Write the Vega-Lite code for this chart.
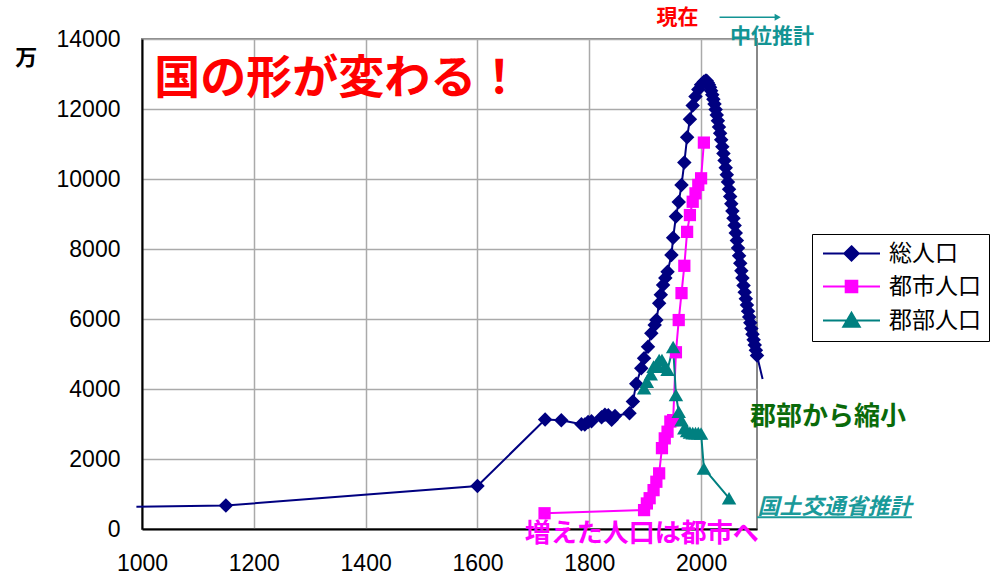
{
  "$schema": "https://vega.github.io/schema/vega-lite/v6.json",
  "width": 615,
  "height": 490,
  "autosize": {"type": "none"},
  "padding": {"left": 142, "top": 39, "right": 243, "bottom": 47},
  "background": "white",
  "config": {
    "view": {"stroke": "#888888", "strokeWidth": 2},
    "axis": {
      "labelFont": "Liberation Sans",
      "labelFontSize": 23,
      "labelColor": "black",
      "labelFlush": false,
      "labelOverlap": false,
      "domainColor": "black",
      "domainWidth": 2,
      "gridColor": "#AAAAAA",
      "gridWidth": 1.5,
      "ticks": false,
      "title": null
    },
    "legend": {
      "title": null,
      "orient": "none",
      "legendX": 670,
      "legendY": 195,
      "strokeColor": "black",
      "fillColor": "white",
      "padding": 8,
      "labelFont": "Noto Sans CJK JP",
      "labelFontSize": 23,
      "labelColor": "black",
      "symbolSize": 400,
      "symbolStrokeWidth": 2,
      "symbolOpacity": 1,
      "rowPadding": 9,
      "symbolOffset": 20,
      "labelOffset": 26
    }
  },
  "datasets": {
    "pop": [
      {"series": "総人口", "year": 990, "value": 637},
      {"series": "総人口", "year": 1150, "value": 670},
      {"series": "総人口", "year": 1600, "value": 1227},
      {"series": "総人口", "year": 1721, "value": 3128},
      {"series": "総人口", "year": 1750, "value": 3110},
      {"series": "総人口", "year": 1786, "value": 2990},
      {"series": "総人口", "year": 1792, "value": 2987},
      {"series": "総人口", "year": 1798, "value": 3060},
      {"series": "総人口", "year": 1804, "value": 3080},
      {"series": "総人口", "year": 1822, "value": 3190},
      {"series": "総人口", "year": 1828, "value": 3263},
      {"series": "総人口", "year": 1834, "value": 3250},
      {"series": "総人口", "year": 1840, "value": 3120},
      {"series": "総人口", "year": 1846, "value": 3230},
      {"series": "総人口", "year": 1872, "value": 3310},
      {"series": "総人口", "year": 1878, "value": 3640},
      {"series": "総人口", "year": 1884, "value": 4150},
      {"series": "総人口", "year": 1893, "value": 4590},
      {"series": "総人口", "year": 1898, "value": 4880},
      {"series": "総人口", "year": 1905, "value": 5210},
      {"series": "総人口", "year": 1911, "value": 5590},
      {"series": "総人口", "year": 1917, "value": 5830},
      {"series": "総人口", "year": 1920, "value": 5970},
      {"series": "総人口", "year": 1925, "value": 6450},
      {"series": "総人口", "year": 1928, "value": 6690},
      {"series": "総人口", "year": 1932, "value": 6970},
      {"series": "総人口", "year": 1936, "value": 7170},
      {"series": "総人口", "year": 1940, "value": 7350},
      {"series": "総人口", "year": 1947, "value": 7830},
      {"series": "総人口", "year": 1950, "value": 8320},
      {"series": "総人口", "year": 1955, "value": 8930},
      {"series": "総人口", "year": 1960, "value": 9340},
      {"series": "総人口", "year": 1965, "value": 9830},
      {"series": "総人口", "year": 1970, "value": 10470},
      {"series": "総人口", "year": 1975, "value": 11190},
      {"series": "総人口", "year": 1980, "value": 11710},
      {"series": "総人口", "year": 1985, "value": 12100},
      {"series": "総人口", "year": 1990, "value": 12360},
      {"series": "総人口", "year": 1995, "value": 12560},
      {"series": "総人口", "year": 2000, "value": 12690},
      {"series": "総人口", "year": 2005, "value": 12777},
      {"series": "総人口", "year": 2008, "value": 12808},
      {"series": "総人口", "year": 2010, "value": 12806},
      {"series": "総人口", "year": 2012, "value": 12750},
      {"series": "総人口", "year": 2014, "value": 12695},
      {"series": "総人口", "year": 2016, "value": 12619},
      {"series": "総人口", "year": 2018, "value": 12524},
      {"series": "総人口", "year": 2020, "value": 12410},
      {"series": "総人口", "year": 2022, "value": 12281},
      {"series": "総人口", "year": 2024, "value": 12140},
      {"series": "総人口", "year": 2026, "value": 11989},
      {"series": "総人口", "year": 2028, "value": 11829},
      {"series": "総人口", "year": 2030, "value": 11662},
      {"series": "総人口", "year": 2032, "value": 11487},
      {"series": "総人口", "year": 2034, "value": 11306},
      {"series": "総人口", "year": 2036, "value": 11118},
      {"series": "総人口", "year": 2038, "value": 10925},
      {"series": "総人口", "year": 2040, "value": 10728},
      {"series": "総人口", "year": 2042, "value": 10527},
      {"series": "総人口", "year": 2044, "value": 10324},
      {"series": "総人口", "year": 2046, "value": 10119},
      {"series": "総人口", "year": 2048, "value": 9913},
      {"series": "総人口", "year": 2050, "value": 9708},
      {"series": "総人口", "year": 2052, "value": 9502},
      {"series": "総人口", "year": 2054, "value": 9296},
      {"series": "総人口", "year": 2056, "value": 9089},
      {"series": "総人口", "year": 2058, "value": 8882},
      {"series": "総人口", "year": 2060, "value": 8674},
      {"series": "総人口", "year": 2062, "value": 8460},
      {"series": "総人口", "year": 2064, "value": 8245},
      {"series": "総人口", "year": 2066, "value": 8030},
      {"series": "総人口", "year": 2068, "value": 7810},
      {"series": "総人口", "year": 2070, "value": 7590},
      {"series": "総人口", "year": 2072, "value": 7380},
      {"series": "総人口", "year": 2074, "value": 7170},
      {"series": "総人口", "year": 2076, "value": 6960},
      {"series": "総人口", "year": 2078, "value": 6765},
      {"series": "総人口", "year": 2080, "value": 6580},
      {"series": "総人口", "year": 2082, "value": 6400},
      {"series": "総人口", "year": 2084, "value": 6225},
      {"series": "総人口", "year": 2086, "value": 6055},
      {"series": "総人口", "year": 2088, "value": 5890},
      {"series": "総人口", "year": 2090, "value": 5727},
      {"series": "総人口", "year": 2092, "value": 5565},
      {"series": "総人口", "year": 2094, "value": 5410},
      {"series": "総人口", "year": 2096, "value": 5255},
      {"series": "総人口", "year": 2098, "value": 5105},
      {"series": "総人口", "year": 2100, "value": 4959},
      {"series": "総人口", "year": 2110, "value": 4286},
      {"series": "都市人口", "year": 1720, "value": 450},
      {"series": "都市人口", "year": 1898, "value": 540},
      {"series": "都市人口", "year": 1903, "value": 730},
      {"series": "都市人口", "year": 1908, "value": 880},
      {"series": "都市人口", "year": 1915, "value": 1110},
      {"series": "都市人口", "year": 1920, "value": 1350},
      {"series": "都市人口", "year": 1925, "value": 1590},
      {"series": "都市人口", "year": 1930, "value": 2310},
      {"series": "都市人口", "year": 1935, "value": 2590},
      {"series": "都市人口", "year": 1940, "value": 2780},
      {"series": "都市人口", "year": 1945, "value": 3070},
      {"series": "都市人口", "year": 1950, "value": 3110},
      {"series": "都市人口", "year": 1955, "value": 5050},
      {"series": "都市人口", "year": 1960, "value": 5970},
      {"series": "都市人口", "year": 1965, "value": 6740},
      {"series": "都市人口", "year": 1970, "value": 7520},
      {"series": "都市人口", "year": 1975, "value": 8490},
      {"series": "都市人口", "year": 1980, "value": 8970},
      {"series": "都市人口", "year": 1985, "value": 9350},
      {"series": "都市人口", "year": 1990, "value": 9590},
      {"series": "都市人口", "year": 1995, "value": 9830},
      {"series": "都市人口", "year": 2000, "value": 10020},
      {"series": "都市人口", "year": 2005, "value": 11040},
      {"series": "郡部人口", "year": 1898, "value": 4020},
      {"series": "郡部人口", "year": 1903, "value": 4210},
      {"series": "郡部人口", "year": 1910, "value": 4420},
      {"series": "郡部人口", "year": 1915, "value": 4640},
      {"series": "郡部人口", "year": 1920, "value": 4700},
      {"series": "郡部人口", "year": 1925, "value": 4830},
      {"series": "郡部人口", "year": 1930, "value": 4830},
      {"series": "郡部人口", "year": 1935, "value": 4640},
      {"series": "郡部人口", "year": 1940, "value": 4550},
      {"series": "郡部人口", "year": 1950, "value": 5200},
      {"series": "郡部人口", "year": 1955, "value": 3830},
      {"series": "郡部人口", "year": 1960, "value": 3350},
      {"series": "郡部人口", "year": 1965, "value": 3110},
      {"series": "郡部人口", "year": 1970, "value": 2880},
      {"series": "郡部人口", "year": 1975, "value": 2800},
      {"series": "郡部人口", "year": 1980, "value": 2760},
      {"series": "郡部人口", "year": 1985, "value": 2740},
      {"series": "郡部人口", "year": 1990, "value": 2740},
      {"series": "郡部人口", "year": 1995, "value": 2740},
      {"series": "郡部人口", "year": 2000, "value": 2730},
      {"series": "郡部人口", "year": 2005, "value": 1730},
      {"series": "郡部人口", "year": 2050, "value": 880}
    ]
  },
  "layer": [
    {
      "data": {"name": "pop"},
      "mark": {"type": "line", "strokeWidth": 2, "clip": false},
      "encoding": {
        "x": {"field": "year", "type": "quantitative", "scale": {"domain": [1000, 2100], "nice": false},
              "axis": {"values": [1000, 1200, 1400, 1600, 1800, 2000], "labelPadding": 23, "format": "d"}},
        "y": {"field": "value", "type": "quantitative", "scale": {"domain": [0, 14000], "nice": false},
              "axis": {"values": [0, 2000, 4000, 6000, 8000, 10000, 12000, 14000], "labelPadding": 22, "format": "d"}},
        "color": {"field": "series", "type": "nominal",
                  "scale": {"domain": ["総人口", "都市人口", "郡部人口"], "range": ["#000080", "#FF00FF", "#008080"]}}
      }
    },
    {
      "data": {"name": "pop"},
      "transform": [{"filter": "datum.series === '総人口' && datum.year >= 1100 && datum.year <= 2100"}],
      "mark": {"type": "point", "shape": "diamond", "filled": true, "opacity": 1, "size": 210},
      "encoding": {
        "x": {"field": "year", "type": "quantitative"},
        "y": {"field": "value", "type": "quantitative"},
        "color": {"field": "series", "type": "nominal"}
      }
    },
    {
      "data": {"name": "pop"},
      "transform": [{"filter": "datum.series === '都市人口'"}],
      "mark": {"type": "point", "shape": "square", "filled": true, "opacity": 1, "size": 150},
      "encoding": {
        "x": {"field": "year", "type": "quantitative"},
        "y": {"field": "value", "type": "quantitative"},
        "color": {"field": "series", "type": "nominal"}
      }
    },
    {
      "data": {"name": "pop"},
      "transform": [{"filter": "datum.series === '郡部人口'"}],
      "mark": {"type": "point", "shape": "triangle-up", "filled": true, "opacity": 1, "size": 210},
      "encoding": {
        "x": {"field": "year", "type": "quantitative"},
        "y": {"field": "value", "type": "quantitative"},
        "color": {"field": "series", "type": "nominal"}
      }
    },
    {
      "data": {"name": "pop"},
      "transform": [{"filter": "datum.year < 0"}],
      "mark": {"type": "point", "filled": true, "opacity": 1},
      "encoding": {
        "x": {"field": "year", "type": "quantitative"},
        "y": {"field": "value", "type": "quantitative"},
        "color": {"field": "series", "type": "nominal"},
        "shape": {"field": "series", "type": "nominal",
                  "scale": {"domain": ["総人口", "都市人口", "郡部人口"],
                            "range": ["M-2.85,0H2.85M0,-0.72L0.72,0L0,0.72L-0.72,0Z",
                                      "M-2.85,0H2.85M-0.58,-0.58H0.58V0.58H-0.58Z",
                                      "M-2.85,0H2.85M0,-0.78L0.82,0.62H-0.82Z"]}}
      }
    },
    {
      "data": {"values": [{"label": "国の形が変わる！", "x": 1351, "y": 12857}]},
      "mark": {"type": "text", "font": "Noto Sans CJK JP", "fontWeight": "bold", "fontSize": 46, "color": "#FF0000", "align": "center", "baseline": "middle"},
      "encoding": {"x": {"field": "x", "type": "quantitative"}, "y": {"field": "y", "type": "quantitative"}, "text": {"field": "label"}}
    },
    {
      "data": {"values": [{"label": "現在", "x": 1958, "y": 14600}]},
      "mark": {"type": "text", "font": "Noto Sans CJK JP", "fontWeight": "bold", "fontSize": 21, "color": "#FF0000", "align": "center", "baseline": "middle"},
      "encoding": {"x": {"field": "x", "type": "quantitative"}, "y": {"field": "y", "type": "quantitative"}, "text": {"field": "label"}}
    },
    {
      "data": {"values": [{"label": "中位推計", "x": 2127, "y": 14043}]},
      "mark": {"type": "text", "font": "Noto Sans CJK JP", "fontWeight": "bold", "fontSize": 21, "color": "#139494", "align": "center", "baseline": "middle"},
      "encoding": {"x": {"field": "x", "type": "quantitative"}, "y": {"field": "y", "type": "quantitative"}, "text": {"field": "label"}}
    },
    {
      "data": {"values": [{"x": 2033, "x2": 2137, "y": 14620}]},
      "mark": {"type": "rule", "color": "#139494", "strokeWidth": 1.5},
      "encoding": {"x": {"field": "x", "type": "quantitative"}, "x2": {"field": "x2"}, "y": {"field": "y", "type": "quantitative"}}
    },
    {
      "data": {"values": [{"x": 2137, "y": 14620}]},
      "mark": {"type": "point", "shape": "triangle-right", "filled": true, "size": 50, "color": "#139494", "opacity": 1},
      "encoding": {"x": {"field": "x", "type": "quantitative"}, "y": {"field": "y", "type": "quantitative"}}
    },
    {
      "data": {"values": [{"label": "万", "x": 793, "y": 13457}]},
      "mark": {"type": "text", "font": "Noto Sans CJK JP", "fontWeight": "bold", "fontSize": 22, "color": "black", "align": "center", "baseline": "middle"},
      "encoding": {"x": {"field": "x", "type": "quantitative"}, "y": {"field": "y", "type": "quantitative"}, "text": {"field": "label"}}
    },
    {
      "data": {"values": [{"label": "郡部から縮小", "x": 2227, "y": 3186}]},
      "mark": {"type": "text", "font": "Noto Sans CJK JP", "fontWeight": "bold", "fontSize": 26, "color": "#0A6A0A", "align": "center", "baseline": "middle"},
      "encoding": {"x": {"field": "x", "type": "quantitative"}, "y": {"field": "y", "type": "quantitative"}, "text": {"field": "label"}}
    },
    {
      "data": {"values": [{"label": "国土交通省推計", "x": 2101, "y": 620}]},
      "mark": {"type": "text", "font": "Noto Sans CJK JP", "fontWeight": "bold", "fontStyle": "italic", "fontSize": 22, "color": "#1A9A9A", "align": "left", "baseline": "middle"},
      "encoding": {"x": {"field": "x", "type": "quantitative"}, "y": {"field": "y", "type": "quantitative"}, "text": {"field": "label"}}
    },
    {
      "data": {"values": [{"x": 2100, "x2": 2377, "y": 334}]},
      "mark": {"type": "rule", "color": "#1A9A9A", "strokeWidth": 2},
      "encoding": {"x": {"field": "x", "type": "quantitative"}, "x2": {"field": "x2"}, "y": {"field": "y", "type": "quantitative"}}
    },
    {
      "data": {"values": [{"label": "増えた人口は都市へ", "x": 1894, "y": -130}]},
      "mark": {"type": "text", "font": "Noto Sans CJK JP", "fontWeight": "bold", "fontSize": 26, "color": "#FF00FF", "align": "center", "baseline": "middle"},
      "encoding": {"x": {"field": "x", "type": "quantitative"}, "y": {"field": "y", "type": "quantitative"}, "text": {"field": "label"}}
    }
  ]
}
